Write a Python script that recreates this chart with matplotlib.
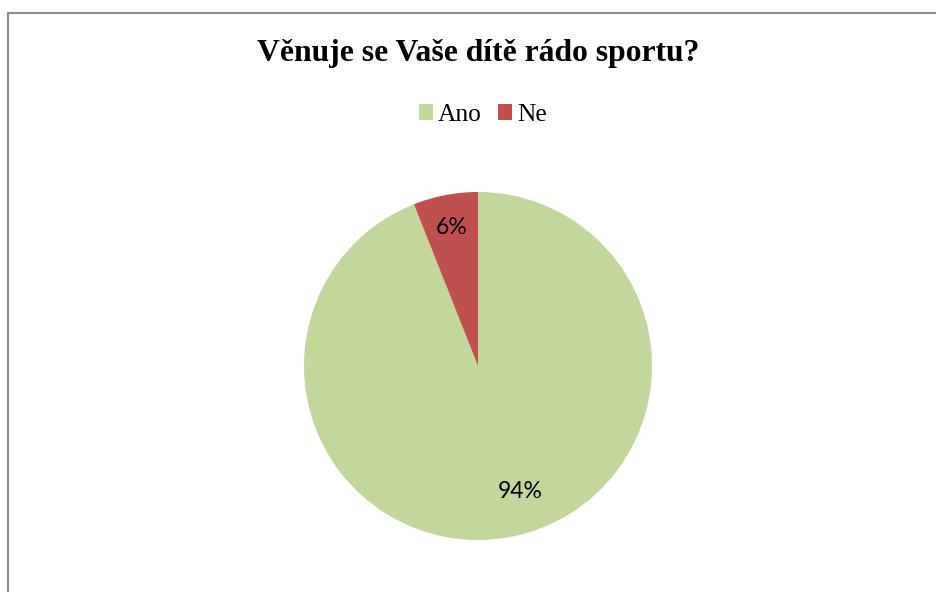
import numpy as np
import matplotlib.pyplot as plt
from matplotlib.patches import Rectangle, Patch

# survey answers
labels = ['Ano', 'Ne']
values = [94, 6]
colors = ['#C3D69B', '#C0504D']
title = 'Věnuje se Vaše dítě rádo sportu?'

fig = plt.figure(figsize=(9.37, 5.92), dpi=100)
fig.patch.set_facecolor('white')

# chart area border (runs off the right and bottom edges)
fig.patches.append(Rectangle((8.5 / 937, -0.2), 1.2, 0.2 + (592 - 12.5) / 592,
                             transform=fig.transFigure, fill=False,
                             edgecolor='#8c8c8c', linewidth=1.5, clip_on=False))

ax = fig.add_axes([(478 - 174) / 937, (592 - 540) / 592, 348 / 937, 348 / 592])
wedges, _ = ax.pie(values, colors=colors, startangle=90, counterclock=False,
                   radius=1.0, wedgeprops=dict(linewidth=0))
ax.set_xlim(-1, 1)
ax.set_ylim(-1, 1)
ax.set_aspect('equal')
ax.axis('off')

# percentage labels, placed inside each wedge
total = sum(values)
label_dist = [0.76, 0.81]
label_shift = [8, 0]
for w, v, d, s in zip(wedges, values, label_dist, label_shift):
    ang = np.deg2rad((w.theta1 + w.theta2) / 2 + s)
    ax.text(d * np.cos(ang), d * np.sin(ang), '%d%%' % round(100 * v / total),
            ha='center', va='center', fontsize=16.5, family='Lato', color='black')

fig.text(478 / 937, 1 - 53 / 592, title, ha='center', va='center',
         fontsize=22.8, fontweight='bold', family='Liberation Serif')

handles = [Patch(facecolor=c, edgecolor='none') for c in colors]
fig.legend(handles, labels, loc='center', bbox_to_anchor=(483 / 937, 1 - 115 / 592),
           ncol=2, frameon=False, handlelength=0.55, handleheight=0.55,
           handletextpad=0.2, columnspacing=0.65,
           prop={'family': 'Liberation Serif', 'size': 18.4})

fig.savefig('out.png', dpi=100)
